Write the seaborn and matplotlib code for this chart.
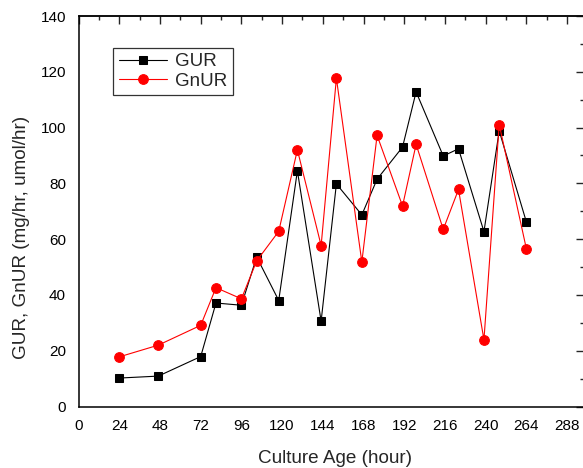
import matplotlib
matplotlib.use("Agg")
import matplotlib.pyplot as plt
import seaborn as sns
import pandas as pd
from matplotlib.ticker import MultipleLocator

sns.set_style("white")
plt.rcParams['font.family'] = ['Liberation Sans', 'DejaVu Sans']

hours = [24, 47, 72, 81, 96, 105, 118, 129, 143, 152, 167, 176, 191, 199, 215, 224, 239, 248, 264]
gur = [10.2, 10.9, 17.9, 37.1, 36.3, 53.6, 38.0, 84.5, 30.6, 79.8, 68.7, 81.5, 93.0, 112.8, 89.8, 92.4, 62.7, 98.8, 66.2]
gnur = [17.8, 22.0, 29.1, 42.6, 38.6, 52.2, 62.8, 92.0, 57.7, 117.7, 51.8, 97.2, 71.9, 94.0, 63.5, 77.8, 23.9, 101.1, 56.6]
x_ticks = list(range(0, 289, 24))
y_ticks = list(range(0, 141, 20))

df = pd.DataFrame({"hour": hours, "GUR": gur, "GnUR": gnur})

fig = plt.figure(figsize=(5.83, 4.68), dpi=100)
x0 = 78.6 / 583
xmax = 298
w = xmax * 1.696 / 583
y0 = (468 - 406.5) / 468
h = 390.5 / 468
ax = fig.add_axes([x0, y0, w, h])

sns.lineplot(data=df, x="hour", y="GUR", ax=ax, color="black", marker="s",
             markersize=6.2, markeredgecolor="black", linewidth=0.8, label="GUR")
sns.lineplot(data=df, x="hour", y="GnUR", ax=ax, color="red", marker="o",
             markersize=7, markeredgecolor="red", linewidth=0.8, label="GnUR")

ax.set_xlim(0, xmax)
ax.set_ylim(0, 140)
ax.set_xticks(x_ticks)
ax.set_yticks(y_ticks)
ax.xaxis.set_minor_locator(MultipleLocator(12))
ax.yaxis.set_minor_locator(MultipleLocator(10))
ax.tick_params(axis='both', which='major', direction='out', length=6, width=1,
               labelsize=11, colors='black', pad=3)
ax.tick_params(axis='both', which='minor', direction='out', length=3, width=1)
for s in ax.spines.values():
    s.set_linewidth(1.1)
    s.set_color('black')

top = ax.secondary_xaxis('top')
top.set_xticks(x_ticks)
top.xaxis.set_minor_locator(MultipleLocator(12))
top.tick_params(which='major', direction='in', length=6, width=1, labeltop=False)
top.tick_params(which='minor', direction='in', length=3, width=1)
top.spines['top'].set_linewidth(1.1)

right = ax.secondary_yaxis('right')
right.set_yticks(y_ticks)
right.yaxis.set_minor_locator(MultipleLocator(10))
right.tick_params(which='major', direction='in', length=6, width=1, labelright=False)
right.tick_params(which='minor', direction='in', length=3, width=1)

ax.set_xlabel("Culture Age (hour)", fontsize=13.6)
ax.set_ylabel("GUR, GnUR (mg/hr, umol/hr)", fontsize=13.6)
ax.xaxis.set_label_coords((334.5 - 78.6) / (xmax * 1.696), -(458.5 - 406.5) / 390.5)
ax.yaxis.set_label_coords(-(78.6 - 21.5) / (xmax * 1.696), (406.5 - 237) / 390.5)
ax.xaxis.label.set_verticalalignment('center')
ax.yaxis.label.set_verticalalignment('center')

leg = ax.legend(loc='upper left', bbox_to_anchor=((113 - 78.6) / (xmax * 1.696), (406.5 - 47.5) / 390.5),
                fontsize=13.5, frameon=True, fancybox=False, edgecolor='black',
                handlelength=2.6, handletextpad=0.4, borderpad=0.3, labelspacing=0.12,
                borderaxespad=0)
leg.get_frame().set_linewidth(0.9)
ax.grid(False)

fig.savefig("out.png", dpi=100)
